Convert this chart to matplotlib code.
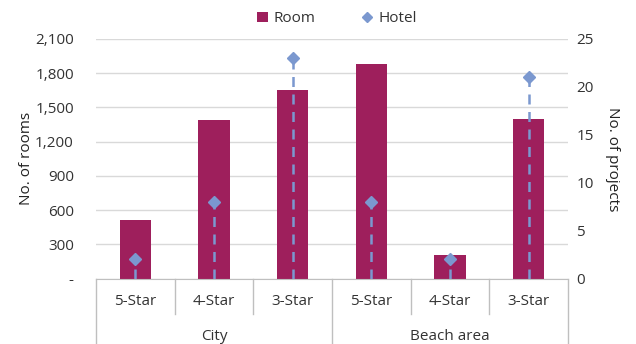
import matplotlib.pyplot as plt
import matplotlib.transforms as mtransforms
import numpy as np

plt.rcParams['font.family'] = ['Open Sans', 'DejaVu Sans']

# data
stars = ["5-Star", "4-Star", "3-Star", "5-Star", "4-Star", "3-Star"]
groups = ["City", "Beach area"]
rooms = [510, 1390, 1650, 1880, 210, 1400]
hotels = [2, 8, 23, 8, 2, 21]

bar_col = "#9E1F5C"
pt_col = "#7B98CF"
grid_col = "#D9D9D9"
txt_col = "#333333"

fig = plt.figure(figsize=(6.36, 3.44), dpi=100)
ax = fig.add_axes([0.151, 0.19, 0.742, 0.697])
ax2 = ax.twinx()

x = np.arange(len(stars))
ax.bar(x, rooms, width=0.4, color=bar_col, zorder=2, label="Room")
ax.set_xlim(-0.5, len(stars) - 0.5)
ax.set_ylim(0, 2100)
yt = np.arange(0, 2101, 300)
ax.set_yticks(yt)
ax.set_yticklabels(["-"] + [f"{v:,}" for v in yt[1:]])
ax.yaxis.grid(True, color=grid_col, linewidth=1, zorder=0)
ax.set_axisbelow(True)

ax2.vlines(x, 0, hotels, colors=pt_col, linestyles=(0, (4, 3)), linewidth=1.8, zorder=3)
ax2.plot(x, hotels, linestyle="none", marker="D", markersize=6, color=pt_col, zorder=4, label="Hotel")
ax2.set_ylim(0, 25)
ax2.set_yticks(range(0, 26, 5))

for a in (ax, ax2):
    for s in ("top", "left", "right"):
        a.spines[s].set_visible(False)
    a.tick_params(length=0, labelsize=11, colors=txt_col)
ax.tick_params(axis="y", pad=16)
ax2.tick_params(axis="y", pad=6)
ax.spines["bottom"].set_color("#BFBFBF")
ax2.spines["bottom"].set_visible(False)

ax.set_xticks([])
ax.set_ylabel("No. of rooms", fontsize=11, color="#222222", labelpad=1)
ax2.set_ylabel("No. of projects", fontsize=11, color="#222222", rotation=270, labelpad=19)

# multi-level category axis
tr = mtransforms.blended_transform_factory(ax.transData, ax.transAxes)
for i in range(len(stars) + 1):
    edge = i - 0.5
    low = -0.28 if i % 3 == 0 else -0.146
    ax.plot([edge, edge], [0, low], color="#BFBFBF", linewidth=1, transform=tr, clip_on=False)
for i, s in enumerate(stars):
    ax.text(i, -0.097, s, transform=tr, ha="center", va="center", fontsize=11, color=txt_col)
for g, name in enumerate(groups):
    ax.text(g * 3 + 1, -0.243, name, transform=tr, ha="center", va="center", fontsize=11, color=txt_col)

h1, l1 = ax.get_legend_handles_labels()
h2, l2 = ax2.get_legend_handles_labels()
fig.legend(h1 + h2, l1 + l2, loc="center", bbox_to_anchor=(0.53, 0.945), ncol=2, frameon=False,
           fontsize=11, handlelength=0.7, handletextpad=0.4, columnspacing=3.0, labelcolor=txt_col,
           markerscale=0.8)

fig.savefig("out.png", dpi=100)
